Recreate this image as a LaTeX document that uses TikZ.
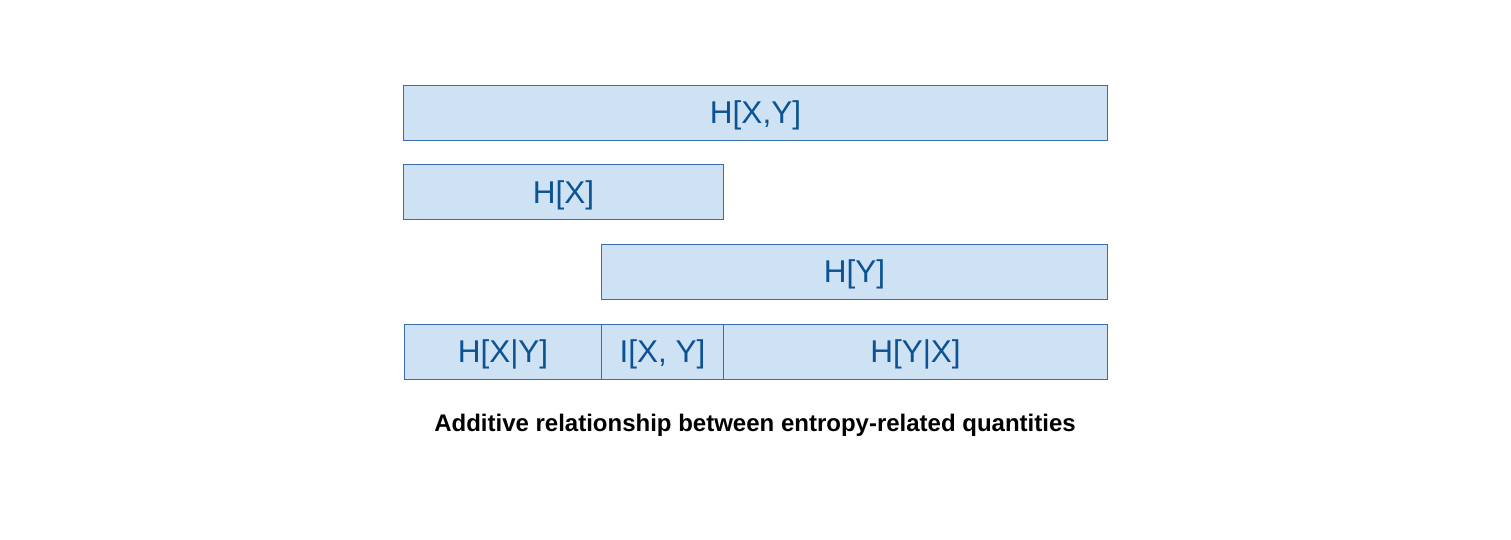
\documentclass[tikz,border=0pt]{standalone}
\usepackage{fontspec}
\setmainfont{Liberation Sans}
\definecolor{boxfill}{HTML}{CFE2F3}
\definecolor{boxline}{HTML}{3A6EA5}
\definecolor{boxtext}{HTML}{0B5394}
\begin{document}
\begin{tikzpicture}[x=1pt,y=-1pt,
  bar/.style={draw=boxline,fill=boxfill,line width=1pt,text=boxtext,
    font=\fontsize{31.5}{36}\selectfont,inner sep=0pt,anchor=north west,
    minimum height=55pt,text height=22.5pt,text depth=0pt},
  caption/.style={font=\bfseries\fontsize{24}{28}\selectfont,text=black}]
\useasboundingbox (0,0) rectangle (1511,539);
\node[bar,minimum width=704pt] (hxy) at (403,84.5) {H[X,Y]};
\node[bar,minimum width=320pt] (hx) at (403,164) {H[X]};
\node[bar,minimum width=506pt] (hy) at (601,243.5) {H[Y]};
\node[bar,minimum width=197pt] (hxgy) at (404,323.5) {H[X|Y]};
\node[bar,minimum width=122pt] (ixy) at (601,323.5) {I[X, Y]};
\node[bar,minimum width=384pt] (hygx) at (723,323.5) {H[Y|X]};
\node[caption] (cap) at (755,425) {Additive relationship between entropy-related quantities};
\end{tikzpicture}
\end{document}
